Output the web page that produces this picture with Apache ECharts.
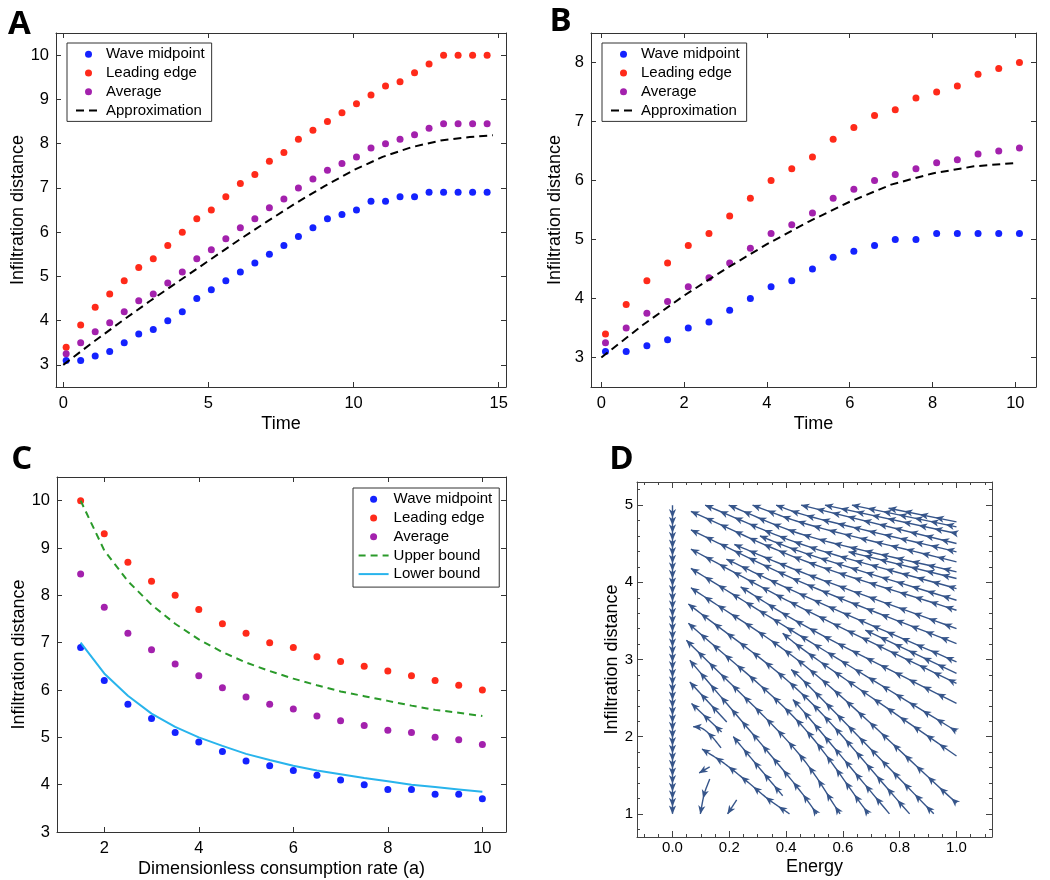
<!DOCTYPE html>
<html><head><meta charset="utf-8">
<script src="https://cdn.jsdelivr.net/npm/echarts@6/dist/echarts.min.js"></script>
<style>html,body{margin:0;padding:0;background:#fff}#c{width:1050px;height:880px}</style>
</head><body><div id="c"></div>
<script>
// ---------- Panel A ----------
const timeA = [0.1,0.6,1.1,1.6,2.1,2.6,3.1,3.6,4.1,4.6,5.1,5.6,6.1,6.6,7.1,7.6,8.1,8.6,9.1,9.6,10.1,10.6,11.1,11.6,12.1,12.6,13.1,13.6,14.1,14.6];
const midA  = [3.1,3.1,3.2,3.3,3.5,3.7,3.8,4.0,4.2,4.5,4.7,4.9,5.1,5.3,5.5,5.7,5.9,6.1,6.3,6.4,6.5,6.7,6.7,6.8,6.8,6.9,6.9,6.9,6.9,6.9];
const leadA = [3.4,3.9,4.3,4.6,4.9,5.2,5.4,5.7,6.0,6.3,6.5,6.8,7.1,7.3,7.6,7.8,8.1,8.3,8.5,8.7,8.9,9.1,9.3,9.4,9.6,9.8,10,10,10,10];
const avgA  = [3.25,3.5,3.75,3.95,4.2,4.45,4.6,4.85,5.1,5.4,5.6,5.85,6.1,6.3,6.55,6.75,7.0,7.2,7.4,7.55,7.7,7.9,8.0,8.1,8.2,8.35,8.45,8.45,8.45,8.45];
const approxAx = [0,1,2,3,4,5,6,7,8,9,10,11,12,13,14,14.8];
const approxAy = [3.0,3.5,3.98,4.45,4.9,5.35,5.8,6.23,6.65,7.04,7.4,7.7,7.92,8.07,8.15,8.19];
// ---------- Panel B ----------
const timeB = [0.1,0.6,1.1,1.6,2.1,2.6,3.1,3.6,4.1,4.6,5.1,5.6,6.1,6.6,7.1,7.6,8.1,8.6,9.1,9.6,10.1];
const midB  = [3.1,3.1,3.2,3.3,3.5,3.6,3.8,4.0,4.2,4.3,4.5,4.7,4.8,4.9,5.0,5.0,5.1,5.1,5.1,5.1,5.1];
const leadB = [3.4,3.9,4.3,4.6,4.9,5.1,5.4,5.7,6.0,6.2,6.4,6.7,6.9,7.1,7.2,7.4,7.5,7.6,7.8,7.9,8.0];
const avgB  = [3.25,3.5,3.75,3.95,4.2,4.35,4.6,4.85,5.1,5.25,5.45,5.7,5.85,6.0,6.1,6.2,6.3,6.35,6.45,6.5,6.55];
const approxBx = [0,1,2,3,4,5,6,7,8,9,10.05];
const approxBy = [3.0,3.55,4.05,4.5,4.92,5.3,5.64,5.93,6.12,6.24,6.3];
// ---------- Panel C ----------
const rateC  = [1.5,2,2.5,3,3.5,4,4.5,5,5.5,6,6.5,7,7.5,8,8.5,9,9.5,10];
const midC   = [6.9,6.2,5.7,5.4,5.1,4.9,4.7,4.5,4.4,4.3,4.2,4.1,4.0,3.9,3.9,3.8,3.8,3.7];
const leadC  = [10,9.3,8.7,8.3,8.0,7.7,7.4,7.2,7.0,6.9,6.7,6.6,6.5,6.4,6.3,6.2,6.1,6.0];
const avgC   = [8.45,7.75,7.2,6.85,6.55,6.3,6.05,5.85,5.7,5.6,5.45,5.35,5.25,5.15,5.1,5.0,4.95,4.85];
const upperC = [10.0,8.95,8.3,7.8,7.4,7.07,6.8,6.58,6.4,6.24,6.1,5.97,5.87,5.77,5.67,5.58,5.52,5.45];
const lowerC = [7.0,6.35,5.88,5.5,5.22,5.0,4.82,4.65,4.52,4.4,4.3,4.22,4.14,4.07,4.0,3.95,3.9,3.85];
// ---------- Panel D : streamlines (Energy, Infiltration distance), listed in flow order ----------
const streamLines = [
  [[1.0,4.784],[0.761,4.96]],
  [[1.0,4.719],[0.632,5.0]],
  [[1.0,4.633],[0.537,5.0]],
  [[1.0,4.503],[0.453,5.0]],
  [[1.0,4.395],[0.449,4.89],[0.365,5.0]],
  [[1.0,4.265],[0.449,4.78],[0.282,5.0]],
  [[1.0,4.135],[0.449,4.63],[0.198,5.0]],
  [[1.0,4.049],[0.62,4.395]],
  [[1.0,3.919],[0.449,4.50],[0.115,5.0]],
  [[1.0,3.768],[0.449,4.40],[0.308,4.60]],
  [[1.0,3.638],[0.449,4.30],[0.065,4.92]],
  [[1.0,3.40],[0.449,4.14],[0.218,4.49]],
  [[1.0,3.206],[0.449,4.01],[0.065,4.68]],
  [[1.0,2.97],[0.449,3.85],[0.19,4.30]],
  [[1.0,2.82],[0.679,3.38]],
  [[1.0,2.69],[0.449,3.68],[0.065,4.43]],
  [[1.0,2.43],[0.449,3.47],[0.24,3.94]],
  [[1.0,2.07],[0.449,3.31],[0.065,4.18]],
  [[1.0,1.75],[0.449,3.16],[0.388,3.34]],
  [[1.0,1.14],[0.449,2.97],[0.065,3.93]],
  [[0.92,1.0],[0.449,2.77],[0.418,2.87]],
  [[0.835,1.0],[0.449,2.58],[0.056,3.72]],
  [[0.764,1.0],[0.449,2.38],[0.424,2.48]],
  [[0.69,1.0],[0.449,2.17],[0.056,3.47]],
  [[0.59,1.0],[0.449,1.76],[0.049,3.25]],
  [[0.508,1.0],[0.449,1.30],[0.061,2.99]],
  [[0.191,2.189],[0.061,2.708]],
  [[0.173,2.06],[0.067,2.43]],
  [[0.171,1.855],[0.135,2.015],[0.10,2.115],[0.073,2.13]],
  [[0.388,1.235],[0.30,1.62],[0.214,2.0]],
  [[0.412,1.0],[0.341,1.18],[0.259,1.43],[0.176,1.67],[0.104,1.84]],
  [[0.131,1.61],[0.094,1.53]],
  [[0.131,1.45],[0.112,1.26],[0.098,1.0]],
  [[0.226,1.18],[0.194,1.0]]
];
const axisStream = [[[0,5.0],[0,1.0]]];

const BLUE='#1422ff', RED='#ff2a1a', PURPLE='#a321ad', STREAM='#36558a';
const FONT='Liberation Sans';
const zip=(xs,ys)=>xs.map((x,i)=>[x,ys[i]]);

// centripetal Catmull-Rom through the read points (pixel space)
function crSample(pts,n){
  if(pts.length<3) return pts.slice();
  const m=pts.length;
  const P=[[2*pts[0][0]-pts[1][0],2*pts[0][1]-pts[1][1]],...pts,[2*pts[m-1][0]-pts[m-2][0],2*pts[m-1][1]-pts[m-2][1]]];
  const out=[pts[0]];
  const kd=(a,b)=>Math.max(Math.sqrt(Math.hypot(b[0]-a[0],b[1]-a[1])),1e-4);
  for(let i=1;i<P.length-2;i++){
    const p0=P[i-1],p1=P[i],p2=P[i+1],p3=P[i+2];
    const t0=0,t1=t0+kd(p0,p1),t2=t1+kd(p1,p2),t3=t2+kd(p2,p3);
    for(let k=1;k<=n;k++){
      const t=t1+(t2-t1)*k/n;
      const L=(a,b,ta,tb)=>[a[0]*(tb-t)/(tb-ta)+b[0]*(t-ta)/(tb-ta),a[1]*(tb-t)/(tb-ta)+b[1]*(t-ta)/(tb-ta)];
      const A1=L(p0,p1,t0,t1),A2=L(p1,p2,t1,t2),A3=L(p2,p3,t2,t3);
      const B1=L(A1,A2,t0,t2),B2=L(A2,A3,t1,t3);
      out.push(L(B1,B2,t1,t2));
    }
  }
  return out;
}
function makeStreamRender(lines,spacing){
  return function(params,api){
    const raw=lines[params.dataIndex].map(p=>api.coord(p));
    const pts=crSample(raw,16);
    const cum=[0];
    for(let i=1;i<pts.length;i++) cum.push(cum[i-1]+Math.hypot(pts[i][0]-pts[i-1][0],pts[i][1]-pts[i-1][1]));
    const L=cum[cum.length-1];
    const children=[{type:'polyline',shape:{points:pts},style:{stroke:STREAM,lineWidth:1.4,fill:null}}];
    for(let s=L-4;s>2.5;s-=spacing){
      let j=0; while(j<cum.length-2 && cum[j+1]<s) j++;
      const seg=cum[j+1]-cum[j]||1, t=(s-cum[j])/seg;
      const P=[pts[j][0]+(pts[j+1][0]-pts[j][0])*t, pts[j][1]+(pts[j+1][1]-pts[j][1])*t];
      let dx=pts[j+1][0]-pts[j][0], dy=pts[j+1][1]-pts[j][1]; const dl=Math.hypot(dx,dy)||1; dx/=dl; dy/=dl;
      const nx=-dy, ny=dx, hl=4.4, hw=3.6;
      const tip=[P[0]+dx*hl,P[1]+dy*hl];
      const bl=[P[0]-dx*hl+nx*hw,P[1]-dy*hl+ny*hw];
      const br=[P[0]-dx*hl-nx*hw,P[1]-dy*hl-ny*hw];
      const notch=[P[0]-dx*2.0,P[1]-dy*2.0];
      children.push({type:'polygon',shape:{points:[tip,bl,notch,br]},style:{fill:STREAM}});
    }
    return {type:'group',children};
  };
}

function axes(grid, min, max, split, opt){
  const col=opt.frame||'#333';
  const line={show:true,onZero:false,lineStyle:{color:col,width:1}};
  const tick={show:true,inside:true,length:opt.tickLen||5,lineStyle:{color:col,width:1}};
  const minor=opt.minor?{show:true,splitNumber:opt.minor,length:opt.minorLen||3,lineStyle:{color:col,width:1}}:{show:false};
  const base={type:'value',gridIndex:grid,min,max,splitNumber:split,axisLine:line,axisTick:tick,minorTick:minor,splitLine:{show:false},minorSplitLine:{show:false}};
  const main=Object.assign({},base,{
    position:opt.pos,
    name:opt.name,nameLocation:'middle',nameGap:opt.nameGap,
    nameTextStyle:{fontFamily:FONT,fontSize:opt.nameSize||18,color:'#000'},
    axisLabel:{show:true,fontFamily:FONT,fontSize:opt.labelSize||16.5,color:'#000',margin:opt.margin,
      showMinLabel:opt.showMin||false,showMaxLabel:false,formatter:opt.fmt}
  });
  const dup=Object.assign({},base,{position:opt.pos2,axisLabel:{show:false}});
  return [main,dup];
}

const xA=axes(0,-0.25,15.25,3,{pos:'bottom',pos2:'top',name:'Time',nameGap:28,margin:8});
const yA=axes(0,2.5,10.5,8,{pos:'left',pos2:'right',name:'Infiltration distance',nameGap:27,margin:7});
const xB=axes(1,-0.25,10.5,5,{pos:'bottom',pos2:'top',name:'Time',nameGap:28,margin:8});
const yB=axes(1,2.5,8.5,6,{pos:'left',pos2:'right',name:'Infiltration distance',nameGap:27,margin:7});
const xC=axes(2,1,10.5,5,{pos:'bottom',pos2:'top',name:'Dimensionless consumption rate (a)',nameGap:28,margin:8});
const yC=axes(2,3,10.5,8,{pos:'left',pos2:'right',name:'Infiltration distance',nameGap:27,margin:7,showMin:true});
const xD=axes(3,-0.125,1.125,6,{pos:'bottom',pos2:'top',name:'Energy',nameGap:21,margin:3,labelSize:15,minor:4,tickLen:6,minorLen:3,frame:'#444',fmt:v=>v.toFixed(1)});
const yD=axes(3,0.7,5.3,5,{pos:'left',pos2:'right',name:'Infiltration distance',nameGap:15,margin:4,labelSize:15,minor:5,tickLen:6,minorLen:3,frame:'#444'});

function scat(name,data,color,g){
  return {type:'scatter',name,data,xAxisIndex:2*g,yAxisIndex:2*g,symbol:'circle',symbolSize:7,itemStyle:{color,opacity:1},emphasis:{disabled:true}};
}
function line(name,data,color,type,g){
  return {type:'line',name,data,xAxisIndex:2*g,yAxisIndex:2*g,symbol:'none',showSymbol:false,smooth:false,
    lineStyle:{color,width:2,type},itemStyle:{color},emphasis:{disabled:true}};
}

const noDot={opacity:0,color:'rgba(0,0,0,0)',borderWidth:0};
const legendBase={orient:'vertical',itemWidth:25,itemHeight:7,itemGap:0.7,
  textStyle:{fontFamily:FONT,fontSize:15,color:'#000',lineHeight:18},
  borderColor:'#333',borderWidth:1,borderRadius:0,backgroundColor:'#fff',padding:[2.3,7,2,8],selectedMode:false};
const legendAB=[{name:'Wave midpoint',icon:'circle'},{name:'Leading edge',icon:'circle'},{name:'Average',icon:'circle'},{name:'Approximation',itemStyle:noDot}];

const option={
  animation:false,
  backgroundColor:'#fff',
  grid:[
    {left:56,top:33,width:450,height:354},
    {left:591,top:33,width:445,height:354},
    {left:57,top:477,width:449,height:355},
    {left:637,top:482,width:355,height:355}
  ],
  xAxis:[...xA,...xB,...xC,...xD],
  yAxis:[...yA,...yB,...yC,...yD],
  legend:[
    Object.assign({},legendBase,{left:67,top:43,data:legendAB}),
    Object.assign({},legendBase,{left:602,top:43,data:legendAB}),
    Object.assign({},legendBase,{left:353,top:488,itemWidth:30,padding:[2.3,7,4,4.6],data:[{name:'Wave midpoint',icon:'circle'},{name:'Leading edge',icon:'circle'},{name:'Average',icon:'circle'},{name:'Upper bound',itemStyle:noDot},{name:'Lower bound',itemStyle:noDot}]})
  ],
  series:[
    line('Approximation',zip(approxAx,approxAy),'#000',[8,5],0),
    scat('Wave midpoint',zip(timeA,midA),BLUE,0),
    scat('Leading edge',zip(timeA,leadA),RED,0),
    scat('Average',zip(timeA,avgA),PURPLE,0),
    line('Approximation',zip(approxBx,approxBy),'#000',[8,5],1),
    scat('Wave midpoint',zip(timeB,midB),BLUE,1),
    scat('Leading edge',zip(timeB,leadB),RED,1),
    scat('Average',zip(timeB,avgB),PURPLE,1),
    line('Upper bound',zip(rateC,upperC),'#2a9a2a',[7,5],2),
    line('Lower bound',zip(rateC,lowerC),'#28b4ec','solid',2),
    scat('Wave midpoint',zip(rateC,midC),BLUE,2),
    scat('Leading edge',zip(rateC,leadC),RED,2),
    scat('Average',zip(rateC,avgC),PURPLE,2),
    {type:'custom',name:'streams',xAxisIndex:6,yAxisIndex:6,renderItem:makeStreamRender(streamLines,16),
      data:streamLines.map(s=>s[0]),encode:{x:0,y:1},silent:true},
    {type:'custom',name:'axisStream',xAxisIndex:6,yAxisIndex:6,renderItem:makeStreamRender(axisStream,7.6),
      data:axisStream.map(s=>s[0]),encode:{x:0,y:1},silent:true}
  ],
  graphic:[
    {type:'text',x:19.5,y:24.5,style:{text:'A',font:'bold 33px "Open Sans"',fill:'#000',textAlign:'center',textVerticalAlign:'middle'}},
    {type:'text',x:560.7,y:21.2,style:{text:'B',font:'bold 33px "Open Sans"',fill:'#000',textAlign:'center',textVerticalAlign:'middle'}},
    {type:'text',x:21.7,y:460,style:{text:'C',font:'bold 33px "Open Sans"',fill:'#000',textAlign:'center',textVerticalAlign:'middle'}},
    {type:'text',x:621.5,y:460,style:{text:'D',font:'bold 33px "Open Sans"',fill:'#000',textAlign:'center',textVerticalAlign:'middle'}}
  ]
};
const chart=echarts.init(document.getElementById('c'),null,{renderer:'canvas'});
chart.setOption(option);
</script></body></html>
